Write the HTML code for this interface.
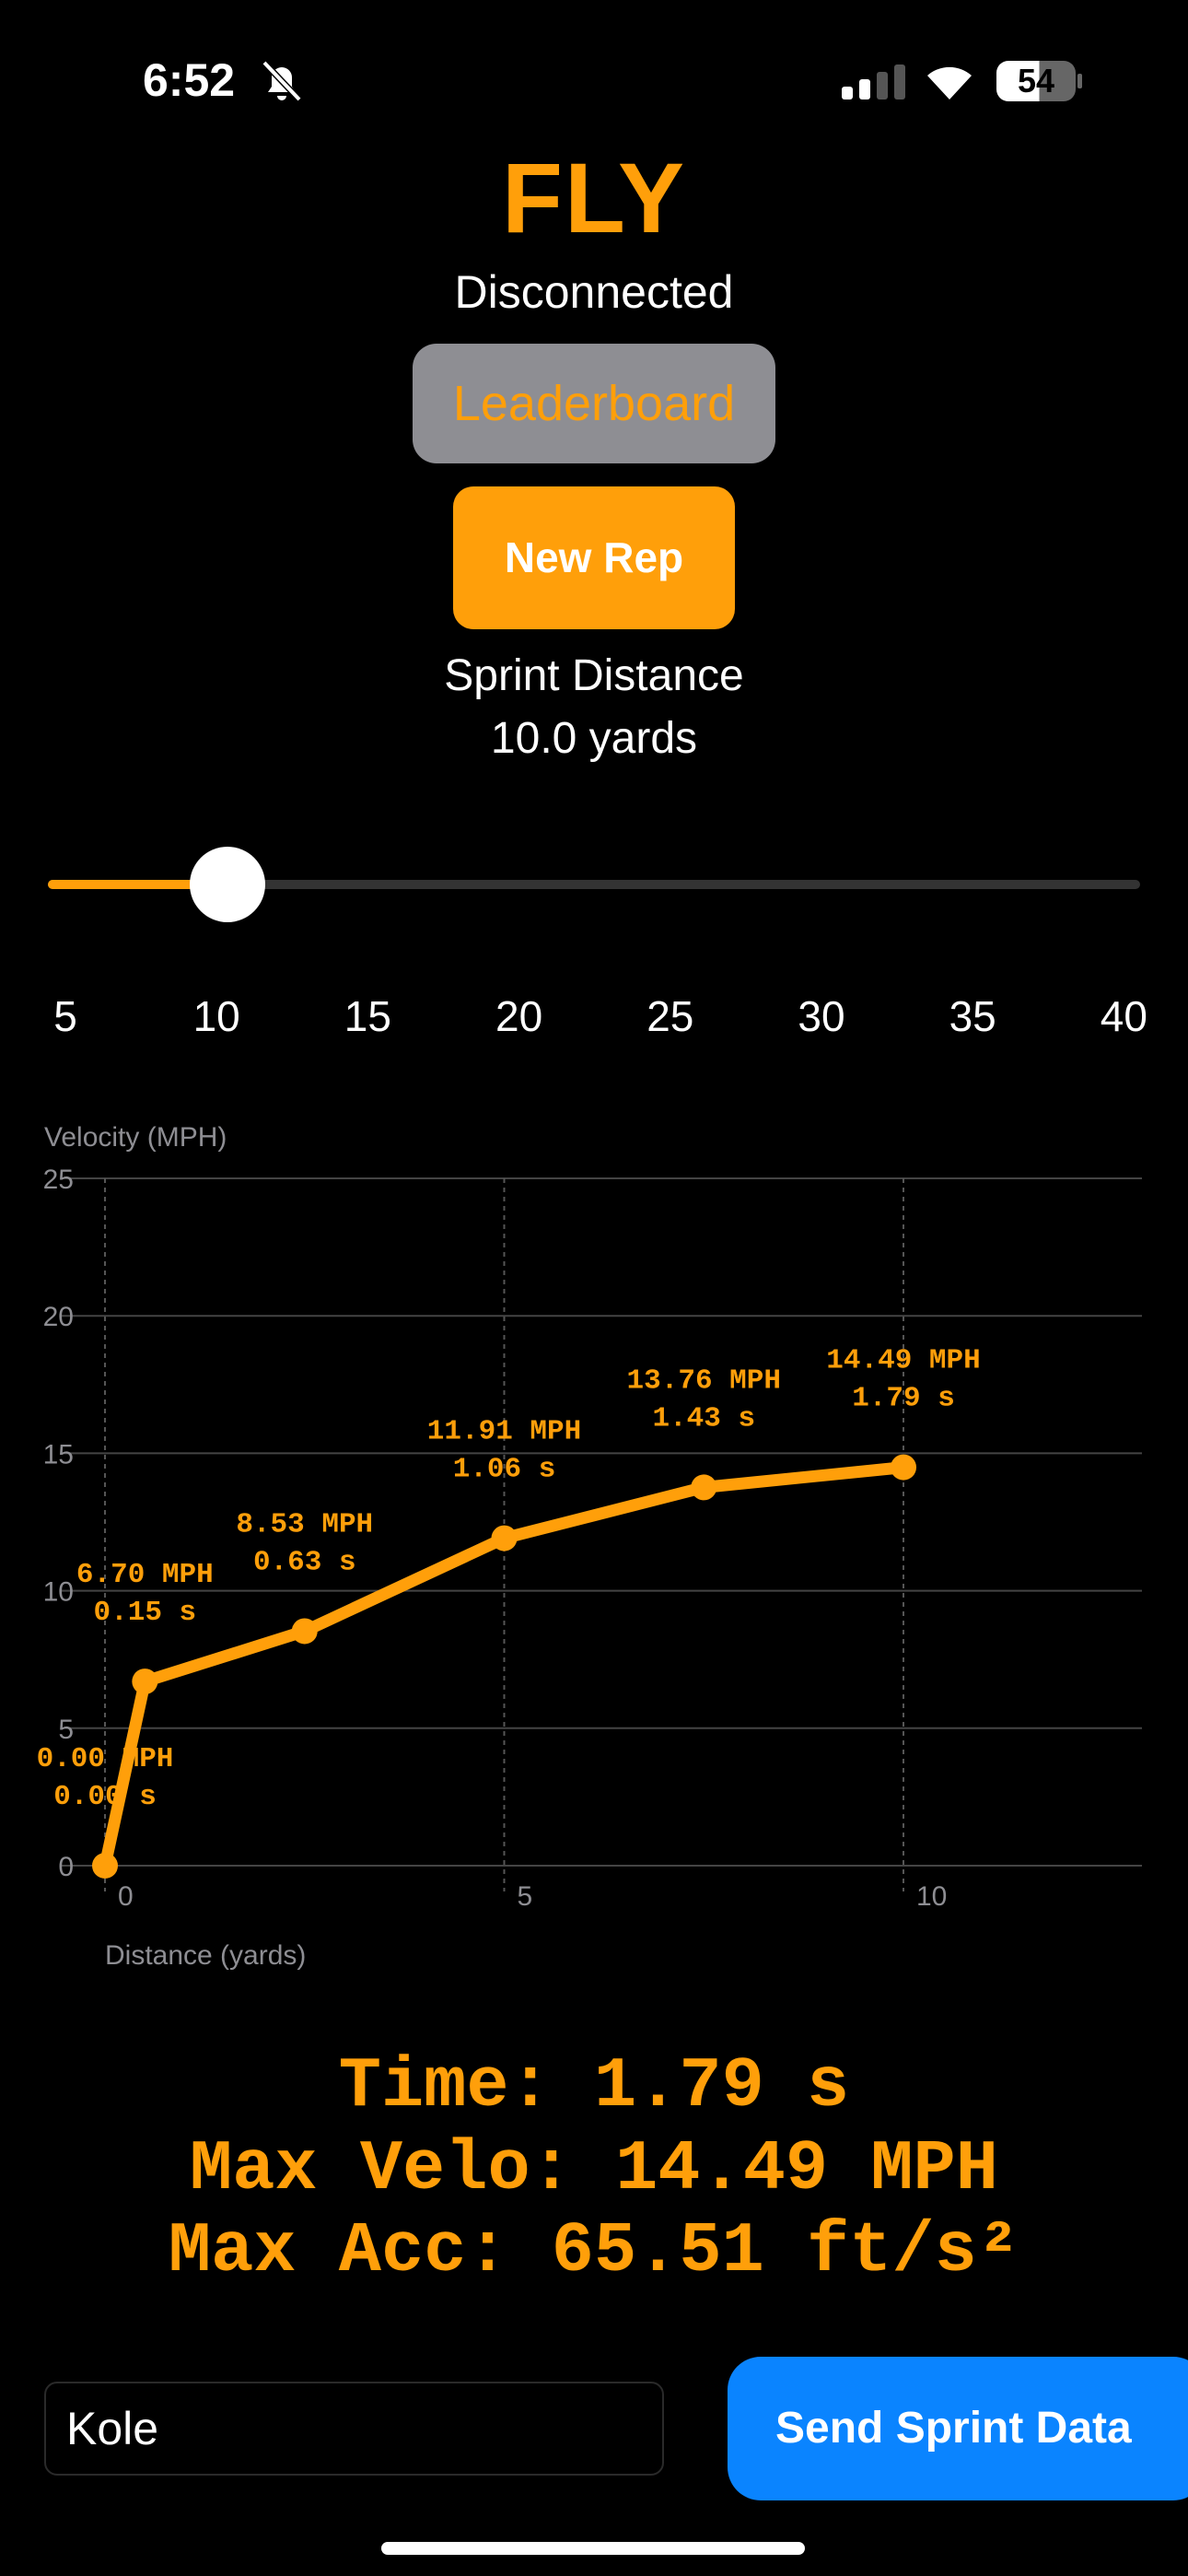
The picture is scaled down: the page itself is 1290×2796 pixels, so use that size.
<!DOCTYPE html>
<html><head><meta charset="utf-8"><style>
body{margin:0;width:1290px;height:2796px;background:#000;position:relative;overflow:hidden;font-family:"Liberation Sans",sans-serif;color:#fff}
.abs{position:absolute}
.c{left:0;width:1290px;text-align:center}
.mono{font-family:"Liberation Mono",monospace;font-weight:bold;color:#FF9F0A}
</style></head><body>
<div class="abs" style="left:155px;top:58px;font-size:50px;font-weight:bold">6:52</div>
<svg class="abs" style="left:283px;top:64px" width="46" height="48" viewBox="0 0 46 48"><path d="M8 36 L12 30 V20 a11 11 0 0 1 22 0 V30 L38 36 Z M18 40 a5 5 0 0 0 10 0" fill="#fff"/><line x1="4" y1="4" x2="42" y2="44" stroke="#000" stroke-width="7"/><line x1="4" y1="4" x2="42" y2="44" stroke="#fff" stroke-width="4"/></svg>
<svg class="abs" style="left:914px;top:70px" width="70" height="38"><rect x="0" y="24" width="12" height="14" rx="3" fill="#fff"/><rect x="19" y="16" width="12" height="22" rx="3" fill="#fff"/><rect x="38" y="8" width="12" height="30" rx="3" fill="#555"/><rect x="57" y="0" width="12" height="38" rx="3" fill="#555"/></svg>
<svg class="abs" style="left:1003px;top:68px" width="56" height="40" viewBox="0 0 56 40"><path d="M28 40 L4 14 A36 36 0 0 1 52 14 Z" fill="#fff"/></svg>
<div class="abs" style="left:1082px;top:66px;width:86px;height:44px;border-radius:13px;background:linear-gradient(90deg,#fff 0 54%,#666 54%);color:#000;font-size:36px;font-weight:bold;text-align:center;line-height:44px">54</div>
<div class="abs" style="left:1170px;top:80px;width:5px;height:16px;background:#666;border-radius:2px"></div>

<div class="abs c" style="top:152px;font-size:108px;font-weight:bold;color:#FF9F0A;letter-spacing:2px">FLY</div>
<div class="abs c" style="top:288px;font-size:50px">Disconnected</div>
<div class="abs" style="left:448px;top:373px;width:394px;height:130px;background:#8e8e93;border-radius:26px;color:#FF9F0A;font-size:54px;text-align:center;line-height:130px">Leaderboard</div>
<div class="abs" style="left:492px;top:528px;width:306px;height:155px;background:#FF9F0A;border-radius:22px;font-size:46px;font-weight:bold;text-align:center;line-height:155px">New Rep</div>
<div class="abs c" style="top:706px;font-size:48px">Sprint Distance</div>
<div class="abs c" style="top:774px;font-size:48px">10.0 yards</div>

<div class="abs" style="left:52px;top:955px;width:1186px;height:10px;background:#333;border-radius:5px"></div>
<div class="abs" style="left:52px;top:955px;width:194px;height:10px;background:#FF9F0A;border-radius:5px"></div>
<div class="abs" style="left:206px;top:919px;width:82px;height:82px;background:#fff;border-radius:50%"></div>
<div id="ticks"></div>

<svg class="abs" id="chart" style="left:0;top:1200px" width="1290" height="960"></svg>

<div class="abs c mono" style="top:2222px;font-size:77px">Time: 1.79 s</div>
<div class="abs c mono" style="top:2312px;font-size:77px">Max Velo: 14.49 MPH</div>
<div class="abs c mono" style="top:2401px;font-size:77px">Max Acc: 65.51 ft/s²</div>

<div class="abs" style="left:48px;top:2585px;width:669px;height:98px;border:2px solid #2a2a2a;border-radius:14px;font-size:50px;line-height:98px;box-sizing:content-box"><span style="margin-left:22px">Kole</span></div>
<div class="abs" style="left:790px;top:2558px;width:520px;height:156px;background:#0A84FF;border-radius:36px;font-size:48px;font-weight:bold;line-height:156px;text-indent:52px">Send Sprint Data</div>
<div class="abs" style="left:414px;top:2759px;width:460px;height:14px;background:#fff;border-radius:7px"></div>

<script>
const sliderTicks=[5,10,15,20,25,30,35,40];
const tickDiv=document.getElementById('ticks');
sliderTicks.forEach((t,i)=>{const d=document.createElement('div');


d.className='abs';d.style.cssText='left:'+(71+i*164.2-60)+'px;width:120px;text-align:center;top:1076px;font-size:46px';d.textContent=t;tickDiv.appendChild(d);});

const distances=[0,0.5,2.5,5,7.5,10];
const velocities=[0.00,6.70,8.53,11.91,13.76,14.49];
const times=["0.00","0.15","0.63","1.06","1.43","1.79"];
const yTicks=[0,5,10,15,20,25];
const xTicks=[0,5,10];
const svg=document.getElementById('chart');const NS='http://www.w3.org/2000/svg';
const X=v=>114+v*86.7, Y=v=>825-v*29.84;
function el(t,a,txt){const e=document.createElementNS(NS,t);for(const k in a)e.setAttribute(k,a[k]);if(txt!==undefined)e.textContent=txt;svg.appendChild(e);return e;}
const yt=el('text',{x:48,y:44,fill:'#8e8e93','font-size':30,'font-family':'Liberation Sans'},'Velocity (MPH)');


yTicks.forEach(v=>{const l=el('line',{x1:66,x2:1240,y1:Y(v),y2:Y(v),stroke:'#444','stroke-width':2});


const t=el('text',{x:80,y:Y(v)+11,fill:'#8e8e93','font-size':30,'text-anchor':'end','font-family':'Liberation Sans'},v);

});
xTicks.forEach(v=>{const l=el('line',{x1:X(v),x2:X(v),y1:Y(25),y2:Y(0)+28,stroke:'#555','stroke-width':2,'stroke-dasharray':'5,5'});


const t=el('text',{x:X(v)+14,y:Y(0)+43,fill:'#8e8e93','font-size':30,'font-family':'Liberation Sans'},v);

});
const xt=el('text',{x:114,y:932,fill:'#8e8e93','font-size':30,'font-family':'Liberation Sans'},'Distance (yards)');


const line=el('polyline',{points:distances.map((d,i)=>X(d)+','+Y(velocities[i])).join(' '),fill:'none',stroke:'#FF9F0A','stroke-width':13,'stroke-linejoin':'round'});


distances.forEach((d,i)=>{const c=el('circle',{cx:X(d),cy:Y(velocities[i]),r:14,fill:'#FF9F0A'});


const a={fill:'#FF9F0A','font-size':31,'font-weight':'bold','text-anchor':'middle','font-family':'Liberation Mono'};
const t1=el('text',Object.assign({x:X(d),y:Y(velocities[i])-108},a),velocities[i].toFixed(2)+' MPH');


const t2=el('text',Object.assign({x:X(d),y:Y(velocities[i])-67},a),times[i]+' s');

});
</script>
</body></html>
